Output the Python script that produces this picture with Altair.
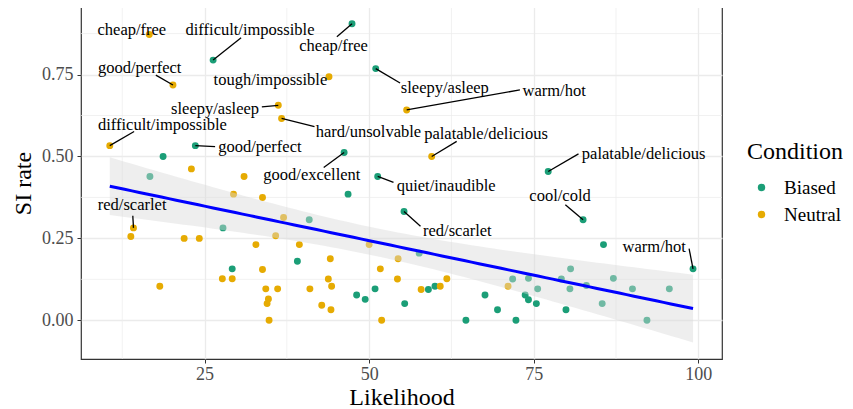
import altair as alt
import pandas as pd
import numpy as np

FONT = "Liberation Serif"

# ---------------- data ----------------
biased_L = [26.3, 47.4, 51.0, 23.6, 18.7, 16.7, 46.2, 51.3, 77.2, 46.8,
            27.8, 40.9, 39.1, 29.2, 50.9, 48.1, 49.4, 55.4, 55.3, 82.5,
            85.6, 99.2, 57.6, 59.0, 60.0, 67.6, 69.5, 64.7, 72.3, 71.8,
            74.2, 75.6, 73.7, 74.2, 75.4, 79.2, 80.6, 80.5, 83.0, 79.9,
            85.4, 87.1, 90.0, 95.6, 92.2]
biased_SI = [0.794, 0.905, 0.768, 0.533, 0.500, 0.439, 0.512, 0.439, 0.454, 0.385,
             0.282, 0.307, 0.180, 0.157, 0.096, 0.077, 0.064, 0.051, 0.332, 0.307,
             0.231, 0.157, 0.205, 0.094, 0.104, 0.077, 0.032, 0.000, 0.000, 0.126,
             0.128, 0.096, 0.077, 0.063, 0.051, 0.126, 0.157, 0.096, 0.106, 0.032,
             0.051, 0.128, 0.096, 0.096, 0.000]

neutral_L = [16.6, 20.2, 43.9, 36.2, 36.7, 10.6, 23.0, 31.0, 55.7, 59.5,
             29.4, 33.8, 14.2, 13.8, 37.0, 35.8, 21.9, 24.2, 32.8, 39.4,
             50.0, 44.1, 54.4, 33.8, 51.7, 27.7, 29.2, 43.8, 54.3, 18.2,
             44.3, 34.3, 36.1, 41.0, 34.7, 34.5, 42.8, 44.2, 34.8, 51.9,
             57.9, 60.8, 61.8, 71.1]
neutral_SI = [0.872, 0.718, 0.743, 0.656, 0.616, 0.533, 0.462, 0.439, 0.642, 0.500,
              0.385, 0.375, 0.282, 0.256, 0.314, 0.258, 0.250, 0.250, 0.231, 0.231,
              0.231, 0.188, 0.188, 0.155, 0.157, 0.127, 0.127, 0.126, 0.126, 0.104,
              0.104, 0.096, 0.096, 0.096, 0.065, 0.051, 0.046, 0.032, 0.000, 0.000,
              0.094, 0.104, 0.127, 0.104]

# annotated word pairs: text, label position (data units), point, segment end
label_text = ["cheap/free", "difficult/impossible", "cheap/free", "good/perfect",
              "tough/impossible", "sleepy/asleep", "sleepy/asleep", "hard/unsolvable",
              "warm/hot", "palatable/delicious", "palatable/delicious",
              "difficult/impossible", "good/perfect", "good/excellent",
              "quiet/inaudible", "red/scarlet", "cool/cold", "warm/hot", "red/scarlet"]
label_L = [13.95, 31.9, 44.6, 15.15, 35.0, 61.5, 26.6, 49.9, 78.1, 67.75, 91.7,
           18.6, 33.4, 41.3, 61.7, 63.4, 79.0, 93.3, 14.0]
label_SI = [0.886, 0.886, 0.838, 0.7695, 0.732, 0.7085, 0.6454, 0.576, 0.701, 0.569,
            0.508, 0.5945, 0.5287, 0.444, 0.4085, 0.2735, 0.378, 0.2238, 0.3506]

seg_pt_L = [26.3, 47.4, 20.2, 51.0, 36.2, 36.7, 55.7, 59.5, 77.2, 10.6, 23.6,
            46.2, 51.3, 55.3, 82.5, 99.2, 14.2]
seg_pt_SI = [0.794, 0.905, 0.718, 0.768, 0.656, 0.616, 0.642, 0.500, 0.454, 0.533,
             0.533, 0.512, 0.439, 0.332, 0.307, 0.157, 0.282]
seg_end_L = [30.55, 45.1, 17.6, 54.7, 33.7, 41.7, 72.9, 63.3, 81.8, 14.3, 26.6,
             43.1, 53.7, 57.8, 79.8, 98.6, 14.1]
seg_end_SI = [0.862, 0.865, 0.748, 0.724, 0.651, 0.591, 0.703, 0.546, 0.508, 0.576,
              0.530, 0.466, 0.421, 0.287, 0.353, 0.219, 0.319]

x_ticks = [25, 50, 75, 100]
y_ticks = [0.0, 0.25, 0.5, 0.75]
x_minor = [12.5, 37.5, 62.5, 87.5]
y_minor = [0.125, 0.375, 0.625, 0.875]

conditions = ["Biased", "Neutral"]
colors = ["#1B9E77", "#E6AB02"]

# ---------------- tables ----------------
pts = pd.DataFrame({
    "Likelihood": biased_L + neutral_L,
    "SI": biased_SI + neutral_SI,
    "Condition": ["Biased"] * len(biased_L) + ["Neutral"] * len(neutral_L),
})

# linear model fit with 95% confidence band (like geom_smooth(method = "lm"))
x = pts["Likelihood"].to_numpy()
y = pts["SI"].to_numpy()
n = len(x)
xb = x.mean()
Sxx = ((x - xb) ** 2).sum()
b1 = ((x - xb) * (y - y.mean())).sum() / Sxx
b0 = y.mean() - b1 * xb
s = np.sqrt(((y - (b0 + b1 * x)) ** 2).sum() / (n - 2))
T975 = 1.988
xs = np.linspace(x.min(), x.max(), 80)
fit = b0 + b1 * xs
se = s * np.sqrt(1.0 / n + (xs - xb) ** 2 / Sxx)
smooth = pd.DataFrame({"Likelihood": xs, "fit": fit,
                       "lo": fit - T975 * se, "hi": fit + T975 * se})

labels = pd.DataFrame({"text": label_text, "L": label_L, "SI": label_SI})
segs = pd.DataFrame({"L": seg_pt_L, "SI": seg_pt_SI, "L2": seg_end_L, "SI2": seg_end_SI})
xminor_df = pd.DataFrame({"v": x_minor})
yminor_df = pd.DataFrame({"v": y_minor})

xscale = alt.Scale(domain=[6.23, 103.6], nice=False, zero=False)
yscale = alt.Scale(domain=[-0.118, 0.956], nice=False, zero=False)

axis_common = dict(
    grid=True, gridColor="#EBEBEB", gridWidth=1.3, domain=False,
    tickColor="#333333", tickSize=4, tickWidth=1,
    labelFont=FONT, labelFontSize=18, labelColor="#4D4D4D",
    titleFont=FONT, titleFontSize=24, titleFontWeight="normal", titleColor="black",
)
XAXIS = alt.Axis(values=x_ticks, format="d", title="Likelihood",
                 labelPadding=2, titlePadding=2, **axis_common)
YAXIS = alt.Axis(values=y_ticks, format=".2f", title="SI rate",
                 labelPadding=4, titlePadding=6, **axis_common)


def X(field):
    return alt.X(field, scale=xscale, axis=XAXIS, title="Likelihood")


def Y(field):
    return alt.Y(field, scale=yscale, axis=YAXIS, title="SI rate")


xminor_layer = alt.Chart(xminor_df).mark_rule(color="#EBEBEB", strokeWidth=0.7).encode(
    x=X("v:Q"))
yminor_layer = alt.Chart(yminor_df).mark_rule(color="#EBEBEB", strokeWidth=0.7).encode(
    y=Y("v:Q"))

points = alt.Chart(pts).mark_circle(size=48, opacity=1).encode(
    x=X("Likelihood:Q"),
    y=Y("SI:Q"),
    color=alt.Color("Condition:N",
                    scale=alt.Scale(domain=conditions, range=colors),
                    legend=alt.Legend(
                        title="Condition", orient="none", legendX=666, legendY=133,
                        titleFont=FONT, titleFontSize=24, titleFontWeight="normal",
                        titleColor="black", titlePadding=14,
                        labelFont=FONT, labelFontSize=19, labelColor="black",
                        symbolType="circle", symbolSize=55, symbolOffset=5,
                        labelOffset=13, rowPadding=7, padding=0,
                        symbolStrokeWidth=0)),
)

ribbon = alt.Chart(smooth).mark_area(color="#D9D9D9", opacity=0.45).encode(
    x=X("Likelihood:Q"),
    y=Y("lo:Q"),
    y2="hi:Q",
)

line = alt.Chart(smooth).mark_line(color="#0000FF", strokeWidth=3).encode(
    x=X("Likelihood:Q"),
    y=Y("fit:Q"),
)

segments = alt.Chart(segs).mark_rule(color="black", strokeWidth=1.3).encode(
    x=X("L:Q"),
    y=Y("SI:Q"),
    x2="L2:Q", y2="SI2:Q",
)

texts = alt.Chart(labels).mark_text(font=FONT, fontSize=16.5, color="black",
                                    align="center", baseline="middle").encode(
    x=X("L:Q"),
    y=Y("SI:Q"),
    text="text:N",
)

chart = alt.layer(
    xminor_layer, yminor_layer, points, ribbon, line, segments, texts
).properties(
    width=641, height=352,
    autosize=alt.AutoSizeParams(type="none"),
    padding={"left": 73, "top": -1, "right": 123, "bottom": 50},
    background="white",
).configure_view(stroke="#333333", strokeWidth=1.2)

chart.save("out.html", embed_options={"renderer": "svg", "actions": False})
